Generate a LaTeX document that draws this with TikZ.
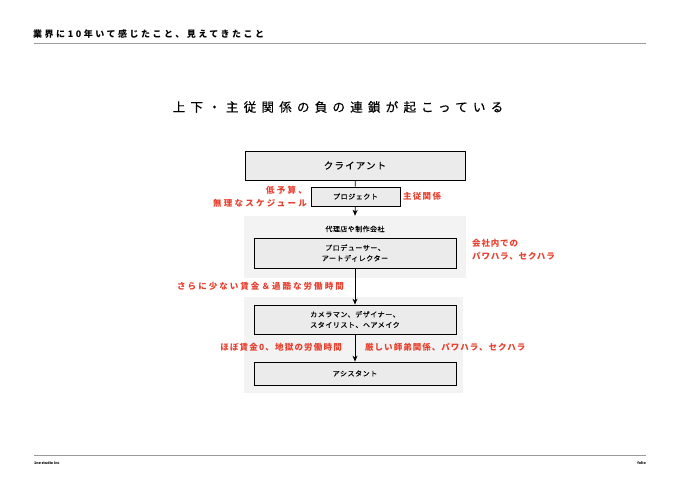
\documentclass[tikz,border=0pt]{standalone}
\usepackage{fontspec}
\setmainfont{Noto Sans CJK JP}
\usepackage{tikz}
\usetikzlibrary{arrows.meta}

\definecolor{hred}{HTML}{E8402F}
\definecolor{boxgray}{HTML}{EBEBEB}
\definecolor{bggray}{HTML}{F3F3F3}
\definecolor{rulegray}{HTML}{9A9A9A}

\tikzset{
  box/.style={draw=black, line width=0.8pt, fill=boxgray, minimum width=202pt, inner sep=0pt, align=center, font=\fontsize{7}{10.5}\selectfont\addfontfeatures{LetterSpace=8,FakeBold=0.3}},
  bgarea/.style={fill=bggray, inner sep=0pt},
  redtxt/.style={text=hred, inner sep=0pt, font=\fontsize{8.5}{13}\selectfont\bfseries\addfontfeatures{LetterSpace=#1}},
  redtxt/.default=24,
  link/.style={line width=0.8pt},
  arr/.style={line width=0.8pt, -{Stealth[length=6pt,width=5pt]}}
}

\begin{document}
\begin{tikzpicture}[x=1pt, y=-1pt]
  \useasboundingbox (0,0) rectangle (680,481);

        %header
  \coordinate (HA) at (34, 43);
  \coordinate (HB) at (646, 43);
  \node[anchor=west, inner sep=0pt, font=\fontsize{9}{9}\selectfont\bfseries\addfontfeatures{LetterSpace=28}] (head) at (33, 34) {業界に10年いて感じたこと、見えてきたこと};
  \draw[rulegray, line width=0.8pt] (HA) -- (HB);

  %title
  \node[inner sep=0pt, font=\fontsize{12.5}{12.5}\selectfont\addfontfeatures{LetterSpace=42,FakeBold=0.4}] (title) at (338, 107) {上下・主従関係の負の連鎖が起こっている};

  %backgrounds
  \node[bgarea, minimum width=222pt, minimum height=62pt] (agency) at (355, 247) {};
  \node[bgarea, minimum width=219pt, minimum height=96pt] (staff) at (353.5, 345) {};

  %boxes
  \node[box, minimum width=220pt, minimum height=29pt, font=\fontsize{9.5}{10}\selectfont\addfontfeatures{LetterSpace=12,FakeBold=0.3}] (client) at (355, 165.5) {クライアント};
  \node[box, minimum width=89pt, minimum height=19pt] (proj) at (355.5, 196.5) {プロジェクト};
  \node[inner sep=0pt, font=\fontsize{7}{10}\selectfont\addfontfeatures{LetterSpace=6,FakeBold=0.3}] (agencytxt) at (355, 229) {代理店や制作会社};
  \node[box, minimum height=30pt] (prod) at (355, 253) {プロデューサー、\\アートディレクター};
  \node[box, minimum height=29pt] (cam) at (355, 319.5) {カメラマン、デザイナー、\\スタイリスト、ヘアメイク};
  \node[box, minimum height=23pt] (asst) at (355, 373.5) {アシスタント};

  %connectors
  \draw[link] (client) -- (proj);
  \draw[arr] (proj) -- (agency.north);
  \draw[arr] (prod) -- (cam);
  \draw[arr] (cam) -- (asst);

  %red labels
  \node[redtxt=26, anchor=east, align=right] (budget) at (307, 197) {低予算、\\無理なスケジュール};
  \node[redtxt=15, anchor=west] (rank) at (403, 196) {主従関係};
  \node[redtxt=10, anchor=west, align=left] (inhouse) at (472, 249.5) {会社内での\\パワハラ、セクハラ};
  \node[redtxt=24, anchor=east] (wage) at (344, 286) {さらに少ない賃金＆過酷な労働時間};
  \node[redtxt=14, anchor=east] (hell) at (342, 347) {ほぼ賃金0、地獄の労働時間};
  \node[redtxt=12, anchor=west] (master) at (365, 347) {厳しい師弟関係、パワハラ、セクハラ};

  %footer
  \coordinate (FA) at (34, 455);
  \coordinate (FB) at (646, 455);
  \draw[rulegray, line width=0.8pt] (FA) -- (FB);
  \node[anchor=west, inner sep=0pt, font=\fontsize{3.6}{4}\selectfont\bfseries] (studio) at (34, 463) {1ne studio Inc};
  \node[anchor=east, inner sep=0pt, font=\fontsize{3.6}{4}\selectfont\bfseries] (folio) at (646, 463) {folio};
\end{tikzpicture}
\end{document}
